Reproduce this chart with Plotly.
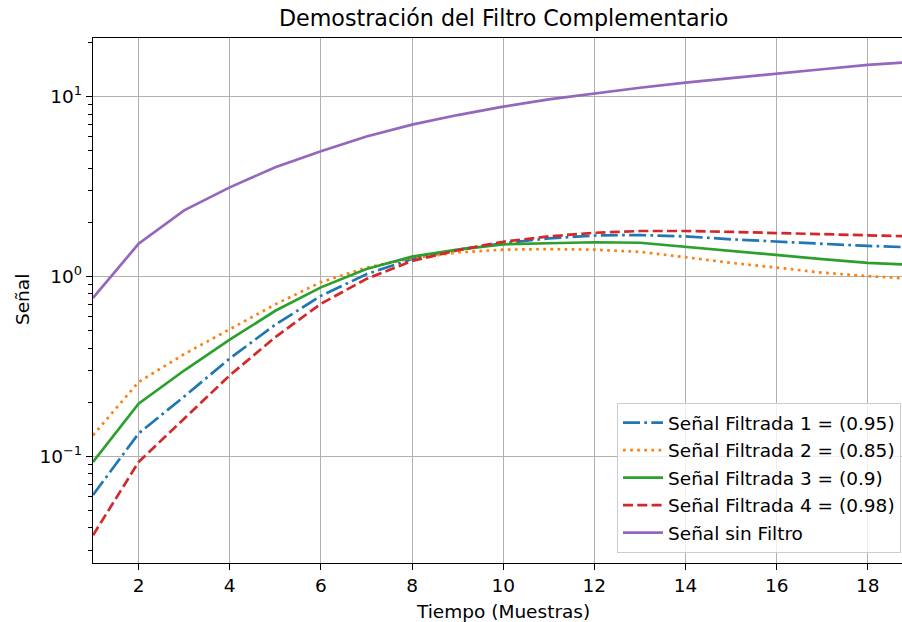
import plotly.graph_objects as go

# Muestras (eje x)
muestras = list(range(1, 20))

# Señal original sin filtrar
senal_sin_filtro = [0.76, 1.52, 2.33, 3.13, 4.05, 4.97, 6.0, 6.99, 7.9, 8.8,
                    9.65, 10.4, 11.2, 11.96, 12.7, 13.4, 14.2, 15.0, 15.6]

# Señales filtradas con distintos coeficientes alfa
filtrada_095 = [0.061, 0.134, 0.215, 0.35, 0.54, 0.78, 1.03, 1.25, 1.41, 1.53,
                1.63, 1.69, 1.70, 1.67, 1.61, 1.56, 1.52, 1.48, 1.45]
filtrada_085 = [0.131, 0.259, 0.37, 0.51, 0.70, 0.93, 1.12, 1.26, 1.36, 1.41,
                1.42, 1.41, 1.37, 1.28, 1.19, 1.12, 1.05, 1.005, 0.97]
filtrada_090 = [0.093, 0.196, 0.30, 0.445, 0.645, 0.87, 1.10, 1.29, 1.41, 1.51,
                1.53, 1.55, 1.54, 1.46, 1.38, 1.31, 1.25, 1.19, 1.16]
filtrada_098 = [0.0364, 0.093, 0.162, 0.282, 0.46, 0.705, 0.97, 1.22, 1.40, 1.56,
                1.67, 1.75, 1.79, 1.79, 1.77, 1.74, 1.72, 1.69, 1.67]

etiquetas = ["Señal Filtrada 1 = (0.95)", "Señal Filtrada 2 = (0.85)",
             "Señal Filtrada 3 = (0.9)", "Señal Filtrada 4 = (0.98)",
             "Señal sin Filtro"]

# Marcas del eje y (escala logarítmica)
y_ticks = [0.1, 1, 10]
y_tick_text = ["10<sup>−1</sup>", "10<sup>0</sup>", "10<sup>1</sup>"]
y_minor = [0.03, 0.04, 0.05, 0.06, 0.07, 0.08, 0.09,
           0.2, 0.3, 0.4, 0.5, 0.6, 0.7, 0.8, 0.9,
           2, 3, 4, 5, 6, 7, 8, 9, 20]
x_ticks = [2, 4, 6, 8, 10, 12, 14, 16, 18]

FONT = "DejaVu Sans"
FS = 18.5
LW = 2.7

series = [
    (filtrada_095, "#1f77b4", "17px,4.3px,2.7px,4.3px"),
    (filtrada_085, "#ff7f0e", "2.7px,4.4px"),
    (filtrada_090, "#2ca02c", "solid"),
    (filtrada_098, "#d62728", "10px,4.3px"),
    (senal_sin_filtro, "#9467bd", "solid"),
]

fig = go.Figure()
for i, ((vals, color, dash), name) in enumerate(zip(series, etiquetas)):
    fig.add_trace(go.Scatter(
        x=muestras, y=vals, mode="lines", name=name, legendgroup=f"g{i}",
        line=dict(color=color, width=LW, dash=dash),
    ))

# Geometría del área de trazado (px)
L, T, B = 93, 38, 563
H = B - T
W = 902 - L

def py(p):
    return (B - p) / H

def px(p):
    return (p - L) / W

fig.update_layout(
    width=902, height=622,
    margin=dict(l=L, r=0, t=T, b=622 - B),
    paper_bgcolor="white", plot_bgcolor="white",
    font=dict(family=FONT, size=FS, color="black"),
    showlegend=True,
    legend=dict(
        x=px(617), y=py(553), xanchor="left", yanchor="bottom",
        bgcolor="rgba(255,255,255,0.8)", bordercolor="#cccccc", borderwidth=1,
        font=dict(family=FONT, size=FS, color="black"),
        itemwidth=40, tracegroupgap=0.5,
    ),
    annotations=[
        dict(text="Demostración del Filtro Complementario", xref="paper", yref="paper",
             x=px(503), y=py(18), xanchor="center", yanchor="middle",
             showarrow=False, font=dict(family=FONT, size=22.2, color="black")),
        dict(text="Tiempo (Muestras)", xref="paper", yref="paper",
             x=px(503), y=py(611), xanchor="center", yanchor="middle",
             showarrow=False, font=dict(family=FONT, size=FS, color="black")),
        dict(text="Señal", xref="paper", yref="paper",
             x=px(22), y=py(300), xanchor="center", yanchor="middle", textangle=-90,
             showarrow=False, font=dict(family=FONT, size=FS, color="black")),
    ],
)

fig.update_xaxes(
    range=[1, 18.75], tickvals=x_ticks,
    showgrid=True, gridcolor="#b0b0b0", gridwidth=1.4,
    showline=True, linecolor="black", linewidth=1.4, mirror=True,
    ticks="outside", ticklen=6, tickwidth=1.4, tickcolor="black",
    tickfont=dict(family=FONT, size=FS), zeroline=False,
)
fig.update_yaxes(
    type="log", range=[-1.593, 1.326],
    tickvals=y_ticks, ticktext=y_tick_text,
    showgrid=True, gridcolor="#b0b0b0", gridwidth=1.4,
    showline=True, linecolor="black", linewidth=1.4, mirror=False,
    ticks="outside", ticklen=6, tickwidth=1.4, tickcolor="black",
    tickfont=dict(family=FONT, size=FS), zeroline=False,
    minor=dict(tickvals=y_minor, ticks="outside", ticklen=3.5, tickwidth=1,
               tickcolor="black", showgrid=False),
)

fig.write_html("out.html")
